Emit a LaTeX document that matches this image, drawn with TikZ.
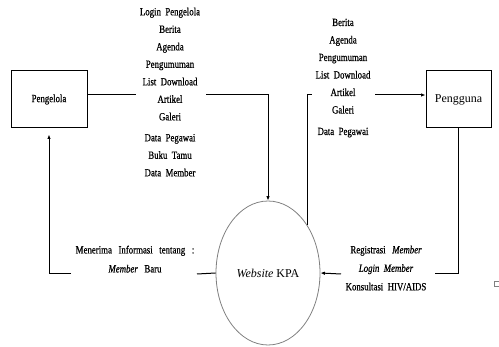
\documentclass[tikz,border=0pt]{standalone}
\usepackage{fontspec}
\setmainfont{Liberation Serif}
\newfontfamily\condfont[FakeStretch=0.8,FakeBold=0.6]{Liberation Serif}
\usetikzlibrary{shapes.geometric,arrows.meta}
\tikzset{
  entity/.style={draw, line width=1pt, inner sep=0pt},
  flow/.style={line width=1pt},
  arr/.style={flow, -{Latex[length=4.5pt,width=3.5pt]}},
  lbl/.style={font=\condfont\fontsize{11}{17.5}\selectfont, align=center, inner sep=0pt},
}
\begin{document}
\begin{tikzpicture}[x=1pt,y=-1pt]
\useasboundingbox (0,0) rectangle (499,347);
% entities
\node[entity, minimum width=76pt, minimum height=57pt, font=\condfont\fontsize{11}{13}\selectfont] (pengelola) at (49,99.5) {Pengelola};
\node[entity, minimum width=65pt, minimum height=57pt, font=\fontsize{12}{14}\selectfont] (pengguna) at (458.5,99.5) {Pengguna};
\node[ellipse, draw=gray, line width=0.8pt, minimum width=104pt, minimum height=144pt, inner sep=0pt, font=\fontsize{12}{14}\selectfont] (web) at (268,273) {\textit{Website} KPA};
% labels
\node[lbl, anchor=north] (ltext) at (170,7.5) {Login\ \ Pengelola\\Berita\\Agenda\\Pengumuman\\List\ \ Download\\Artikel\\Galeri\\[3.5pt]Data\ \ Pegawai\\Buku\ \ Tamu\\Data\ \ Member};
\node[lbl, anchor=north] (rtext) at (343,18.5) {Berita\\Agenda\\Pengumuman\\List\ \ Download\\Artikel\\Galeri\\[4pt]Data\ \ Pegawai};
\node[lbl, font=\condfont\fontsize{11}{19}\selectfont, anchor=north] (btext) at (135,245.5) {Menerima\ \ \ Informasi\ \ \ tentang\ \ \ :\\\textit{Member}\ \ \ Baru};
\node[lbl, font=\condfont\fontsize{11}{18.5}\selectfont, anchor=north] (rbtext) at (386,245.5) {Registrasi\ \ \ \textit{Member}\\\textit{Login\ \ Member}\\Konsultasi\ \ HIV/AIDS};
% gap coordinates
\coordinate (g1) at (136,95);
\coordinate (g2) at (206,95);
\coordinate (g3) at (312,95);
\coordinate (g4) at (375,95);
\coordinate (g5) at (435,274);
\coordinate (g6) at (341,274);
\coordinate (g7) at (197,274);
\coordinate (g8) at (71,274);
% connectors
\draw[flow] (pengelola.east |- g1) -- (g1);
\draw[arr] (g2) -| (web.north);
\draw[flow] (web.51) |- (g3);
\draw[arr] (g4) -- (pengguna.west |- g4);
\draw[flow] (pengguna.south) |- (g5);
\draw[arr] (g6) -- (web.east);
\draw[flow] (web.west) -- (g7);
\draw[arr, shorten >=6pt] (g8) -| (pengelola.south);
% small square mark
\node[draw=gray, line width=0.6pt, minimum size=5pt, inner sep=0pt] (mark) at (496.5,284) {};
\end{tikzpicture}
\end{document}
